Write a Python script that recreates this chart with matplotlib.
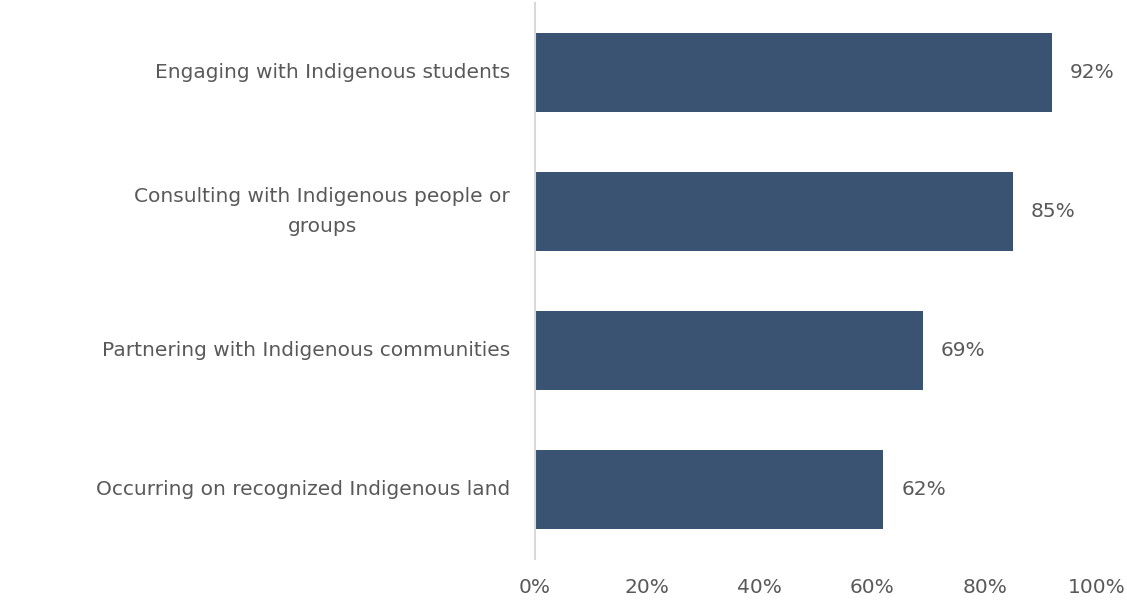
import matplotlib.pyplot as plt
from matplotlib.ticker import FuncFormatter

categories = [
    "Engaging with Indigenous students",
    "Consulting with Indigenous people or\ngroups",
    "Partnering with Indigenous communities",
    "Occurring on recognized Indigenous land",
]
values = [92, 85, 69, 62]
ticks = [0, 20, 40, 60, 80, 100]

bar_color = "#3A5372"
text_color = "#595959"
fsize = 14.5

plt.rcParams["font.family"] = ["DejaVu Sans"]

fig = plt.figure(figsize=(11.27, 6.07), dpi=100)
ax = fig.add_axes([0.4747, 0.079, 0.4987, 0.916])

pos = list(range(len(categories)))
bars = ax.barh(pos, values, height=0.57, color=bar_color)

for b, v in zip(bars, values):
    ax.annotate(f"{v}%", (b.get_width(), b.get_y() + b.get_height() / 2),
                xytext=(13, 0), textcoords="offset points",
                ha="left", va="center", fontsize=fsize, color=text_color)

ax.set_xlim(0, 100)
ax.set_ylim(len(categories) - 0.5, -0.5)
ax.set_xticks(ticks)
ax.xaxis.set_major_formatter(FuncFormatter(lambda x, _: f"{x:.0f}%"))
ax.set_yticks(pos)
ax.set_yticklabels(categories, multialignment="center", linespacing=1.75)
for lbl in ax.get_yticklabels():
    lbl.set_verticalalignment("center")

ax.tick_params(axis="x", length=0, pad=14, labelsize=fsize, labelcolor=text_color)
ax.tick_params(axis="y", length=0, pad=18, labelsize=fsize, labelcolor=text_color)

for side in ("top", "right", "bottom"):
    ax.spines[side].set_visible(False)
ax.spines["left"].set_color("#D9D9D9")
ax.spines["left"].set_linewidth(1.5)

fig.savefig("out.png", dpi=100)
